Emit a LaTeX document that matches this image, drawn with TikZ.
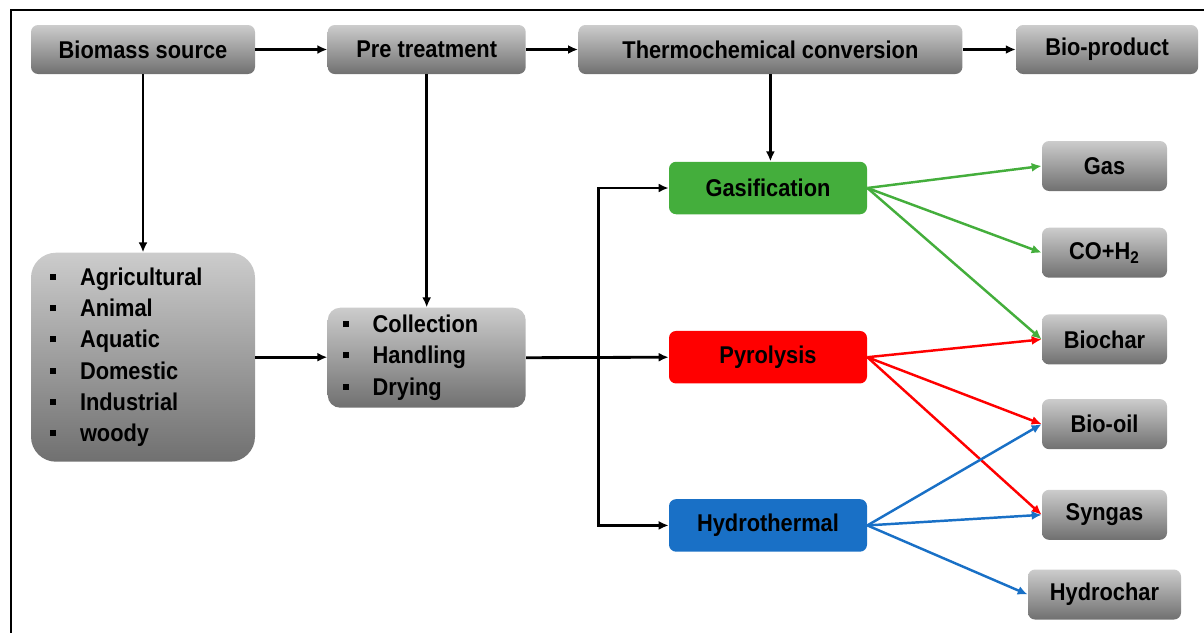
\documentclass[tikz,border=0pt]{standalone}
\usepackage{fontspec}
\setmainfont{Liberation Sans}[FakeStretch=0.9]
\usepackage{tikz}
\usetikzlibrary{arrows.meta}
\usetikzlibrary{positioning}
\usetikzlibrary{calc}
\definecolor{boxtop}{RGB}{204,204,204}
\definecolor{boxbot}{RGB}{112,112,112}
\definecolor{gasgreen}{RGB}{68,174,60}
\definecolor{pyrored}{RGB}{255,0,0}
\definecolor{hydroblue}{RGB}{25,112,198}
\newcommand{\sqb}{\rule[0.11cm]{0.12cm}{0.12cm}}
\tikzstyle{block} = [rectangle, rounded corners = 4pt, minimum height = 0.98cm, inner sep = 0pt, top color = boxtop, bottom color = boxbot, font = \fontsize{13.8pt}{17.8pt}\selectfont\bfseries]
\tikzstyle{process} = [block, minimum width = 3.96cm, minimum height = 1.05cm]
\tikzstyle{product} = [block, minimum width = 2.5cm, minimum height = 1.0cm]
\tikzstyle{arrow} = [line width = 1.6pt, -{Latex[length = 2mm, width = 1.8mm]}]
\tikzstyle{carrow} = [line width = 1.4pt, -{Latex[length = 2mm, width = 1.8mm]}]

\begin{document}
\begin{tikzpicture}

		\useasboundingbox (0,0) rectangle (24.08,-12.64);
		\clip (0,0) rectangle (24.08,-12.64);
		\draw[line width = 1.7pt] (0.22,-0.2) rectangle (24.6,-13.0);

		% Top row
		\node[block, minimum width = 4.48cm] (src) at (2.86,-0.99) {Biomass source};
		\node[block, minimum width = 3.96cm, right = 1.44 cm of src] (pre) {Pre treatment};
		\node[block, minimum width = 7.68cm, right = 1.04 cm of pre] (thermo) {Thermochemical conversion};
		\node[block, minimum width = 3.64cm, right = 1.06 cm of thermo] (bio) {Bio-product};

		% Source list
		\node[block, below = 3.56 cm of src, minimum width = 4.48cm, minimum height = 4.18cm, rounded corners = 0.5cm, text width = 3.72cm, inner xsep = 0.38cm, align = left] (srclist)
		{\sqb\hspace{0.48cm}Agricultural\\ \sqb\hspace{0.48cm}Animal\\ \sqb\hspace{0.48cm}Aquatic\\ \sqb\hspace{0.48cm}Domestic\\ \sqb\hspace{0.48cm}Industrial\\ \sqb\hspace{0.48cm}woody};

		% Pre treatment steps
		\node[block, below = 4.66 cm of pre, minimum width = 3.96cm, minimum height = 2.0cm, rounded corners = 0.25cm, text width = 3.36cm, inner xsep = 0.3cm, align = left] (steps)
		{\sqb\hspace{0.48cm}Collection\\ \sqb\hspace{0.48cm}Handling\\ \sqb\hspace{0.48cm}Drying};

		% Conversion routes
		\node[process, top color = gasgreen, bottom color = gasgreen] (gasif) at (15.36,-3.76) {Gasification};
		\node[process, top color = pyrored, bottom color = pyrored, below = 2.32 cm of gasif] (pyro) {Pyrolysis};
		\node[process, top color = hydroblue, bottom color = hydroblue, below = 2.30 cm of pyro] (hydro) {Hydrothermal};
		\coordinate (split) at ($(steps.east)!0.51!(pyro.west)$);

		% Products
		\node[product] (gas) at (22.09,-3.32) {Gas};
		\node[product, below = 0.72 cm of gas] (syn) {CO+H\textsubscript{2}};
		\node[product, below = 0.72 cm of syn] (char) {Biochar};
		\node[product, below = 0.68 cm of char] (oil) {Bio-oil};
		\node[product, below = 0.80 cm of oil] (sgas) {Syngas};
		\node[product, minimum width = 3.06cm, below = 0.58 cm of sgas] (hchar) {Hydrochar};

		% Connect the main chain
		\draw[arrow] (src) -- (pre);
		\draw[arrow] (pre) -- (thermo);
		\draw[arrow] (thermo) -- (bio);
		\draw[arrow] (src) -- (srclist);
		\draw[arrow] (pre) -- (steps);
		\draw[arrow] (srclist) -- (srclist -| steps.west);
		\draw[arrow] (thermo.south) -- (thermo.south |- gasif.north);
		\draw[arrow] (steps.east) -- (pyro.west);
		\draw[arrow] (split) |- (gasif);
		\draw[arrow] (split) |- (hydro);

		% Routes to products
		\draw[carrow, gasgreen] (gasif.east) -- (gas.west);
		\draw[carrow, gasgreen] (gasif.east) -- (syn.west);
		\draw[carrow, gasgreen] (gasif.east) -- (char.west);
		\draw[carrow, pyrored] (pyro.east) -- (char.west);
		\draw[carrow, pyrored] (pyro.east) -- (oil.west);
		\draw[carrow, pyrored] (pyro.east) -- (sgas.west);
		\draw[carrow, hydroblue] (hydro.east) -- (oil.west);
		\draw[carrow, hydroblue] (hydro.east) -- (sgas.west);
		\draw[carrow, hydroblue] (hydro.east) -- (hchar.west);

	\end{tikzpicture}
\end{document}
